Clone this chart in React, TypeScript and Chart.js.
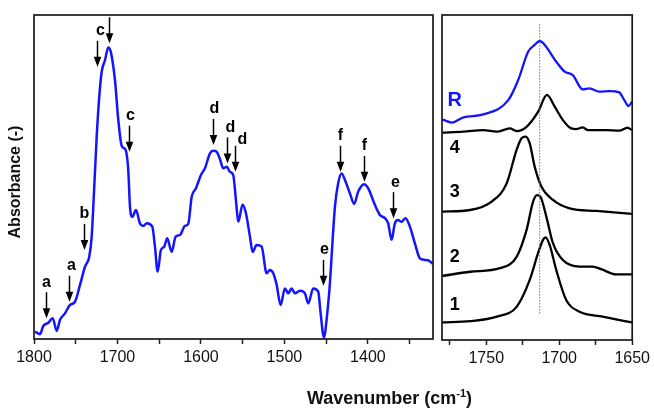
import React, { useEffect, useRef } from 'react';
import { Chart, registerables } from 'chart.js';

Chart.register(...registerables);

const FONT = "'Liberation Sans', Arial, Helvetica, sans-serif";

// ---------------- Main spectrum (left panel) ----------------
const mainWavenumber = [
  1798.8, 1792.8, 1788.9, 1782.9, 1777.6, 1772.8, 1768.9, 1762.9, 1756.9, 1750.9,
  1744.9, 1738.9, 1733.8, 1730.9, 1727.8, 1724.9, 1721.8, 1718.9, 1714.9, 1711.0,
  1708.1, 1703.0, 1699.0, 1694.9, 1690.2, 1687.1, 1685.0, 1682.3, 1677.8, 1673.1,
  1669.1, 1665.0, 1658.3, 1655.1, 1651.9, 1647.9, 1644.0, 1640.4, 1635.1, 1630.3,
  1625.1, 1619.2, 1615.2, 1611.1, 1606.0, 1600.0, 1595.2, 1589.2, 1585.3, 1581.2,
  1577.2, 1573.3, 1569.2, 1565.3, 1561.3, 1558.1, 1555.3, 1550.1, 1546.1, 1541.3,
  1538.1, 1533.3, 1527.3, 1521.3, 1517.4, 1513.4, 1509.3, 1504.6, 1499.4, 1495.4,
  1491.4, 1487.4, 1481.4, 1475.4, 1471.5, 1465.5, 1459.5, 1456.6, 1452.7, 1448.7,
  1445.5, 1443.5, 1439.5, 1435.6, 1431.5, 1427.5, 1421.6, 1416.4, 1411.6, 1404.4,
  1399.6, 1391.6, 1385.6, 1379.6, 1375.7, 1371.6, 1367.7, 1363.7, 1359.7, 1354.9,
  1349.7, 1343.7, 1337.7, 1331.7, 1327.0, 1321.8,
];
const mainAbsorbance = [
  2.3, 1.5, 4.0, 5.0, 6.4, 2.5, 5.9, 7.9, 10.5, 11.5,
  16.7, 22.3, 25.4, 31.6, 47.0, 62.4, 74.8, 82.5, 86.1, 90.0,
  88.7, 79.9, 67.6, 59.6, 58.3, 52.2, 40.8, 37.7, 39.8, 35.7,
  34.9, 35.7, 34.7, 28.5, 20.8, 27.5, 28.5, 31.1, 26.9, 31.6,
  32.1, 34.9, 35.5, 43.9, 46.5, 50.6, 52.7, 57.3, 58.1, 57.8,
  55.5, 52.7, 53.2, 51.6, 50.6, 42.9, 36.2, 41.4, 38.8, 31.6,
  26.9, 29.0, 28.5, 20.3, 21.3, 20.3, 16.7, 10.5, 15.6, 14.1,
  15.6, 14.1, 14.9, 14.1, 11.0, 15.6, 14.6, 7.9, 0.5, 7.9,
  17.2, 25.4, 40.8, 48.1, 51.1, 49.1, 45.0, 41.7, 45.5, 47.8,
  46.5, 41.4, 38.3, 37.3, 35.7, 30.6, 35.7, 36.7, 36.2, 37.3,
  34.7, 29.5, 24.9, 24.4, 24.2, 23.1,
];
const mainTickLabels = [1800, 1700, 1600, 1500, 1400];

// Peak markers (arrows) on the main spectrum
const peakLetters = ['a', 'a', 'b', 'c', '', 'c', 'd', 'd', 'd', 'e', 'f', 'f', 'e'];
const peakWavenumber = [1785.6, 1757.7, 1740.1, 1724.9, 1709.8, 1686.6, 1586.0, 1568.5, 1559.6, 1454.3, 1433.5, 1404.4, 1369.7];
const peakArrowTip = [6.4, 11.5, 27.5, 84.0, 91.3, 57.8, 59.9, 54.2, 51.6, 16.4, 51.6, 48.5, 37.3];

// ---------------- Inset (right panel) ----------------
const traceRWavenumber = [1780.3, 1773.5, 1765.6, 1752.0, 1734.9, 1728.1, 1721.3, 1716.8, 1713.4, 1709.9, 1702.0, 1696.3, 1690.7, 1683.9, 1679.3, 1672.5, 1665.7, 1658.9, 1655.4, 1652.5, 1650.2];
const traceRValues = [67.9, 66.9, 68.5, 69.4, 73.8, 80.0, 88.7, 90.8, 92.0, 90.8, 85.6, 82.6, 81.5, 77.1, 77.4, 76.4, 76.6, 76.2, 73.8, 72.0, 73.3];

const trace4Wavenumber = [1780.3, 1765.6, 1752.0, 1742.8, 1733.8, 1729.2, 1722.4, 1714.5, 1708.4, 1703.1, 1697.5, 1691.8, 1688.4, 1683.9, 1680.4, 1667.9, 1658.9, 1653.2, 1650.2];
const trace4Values = [63.8, 64.1, 64.6, 64.1, 65.1, 64.3, 65.6, 70.2, 75.4, 71.8, 67.7, 65.1, 64.9, 65.4, 64.6, 64.6, 64.4, 65.3, 64.6];

const trace3Wavenumber = [1780.3, 1761.0, 1746.3, 1736.0, 1729.2, 1725.8, 1722.9, 1720.2, 1716.8, 1712.2, 1704.3, 1692.9, 1674.7, 1650.2];
const trace3Values = [39.5, 40.0, 42.6, 48.2, 58.5, 62.1, 62.6, 60.5, 53.3, 47.2, 43.1, 40.5, 39.7, 38.8];

const trace2Wavenumber = [1780.3, 1761.0, 1740.6, 1729.2, 1722.4, 1717.9, 1715.2, 1712.9, 1708.8, 1704.3, 1697.5, 1686.1, 1677.0, 1671.3, 1661.1, 1650.2];
const trace2Values = [19.7, 21.0, 22.1, 25.6, 33.8, 42.6, 44.6, 44.1, 37.9, 29.8, 24.6, 22.6, 22.6, 21.8, 20.2, 20.2];

const trace1Wavenumber = [1780.3, 1761.0, 1742.8, 1729.2, 1720.2, 1714.5, 1711.1, 1709.3, 1706.5, 1702.0, 1695.2, 1686.1, 1670.2, 1650.2];
const trace1Values = [5.4, 5.8, 7.2, 10.2, 18.5, 26.7, 30.8, 31.6, 29.2, 21.5, 12.3, 8.7, 7.2, 5.4];

const traceNames = ['R', '4', '3', '2', '1'];
const traceLabelLevel = [73.8, 59.1, 45.5, 25.5, 10.8];
const insetTickLabels = [1750, 1700, 1650];
const referenceWavenumber = 1713.4;

const BLUE = '#1414ff';
const BLACK = '#000000';

const pts = (xs: number[], ys: number[]) => xs.map((x, i) => ({ x, y: ys[i] }));

const framePlugin = {
  id: 'frame',
  afterDatasetsDraw(chart: any) {
    const { ctx, chartArea: a } = chart;
    ctx.save();
    ctx.strokeStyle = '#1a1a1a';
    ctx.lineWidth = 1.7;
    ctx.strokeRect(a.left, a.top, a.right - a.left, a.bottom - a.top);
    ctx.restore();
  },
};

const arrowPlugin = {
  id: 'peakArrows',
  afterDatasetsDraw(chart: any) {
    const { ctx } = chart;
    const xs = chart.scales.x;
    const ys = chart.scales.y;
    ctx.save();
    ctx.fillStyle = '#000';
    ctx.strokeStyle = '#000';
    ctx.lineWidth = 1.5;
    ctx.font = `bold 16px ${FONT}`;
    ctx.textAlign = 'center';
    ctx.textBaseline = 'middle';
    const shift = [0, 2, 0, 3, 0, 1, 1, 3, 7, 1, 0, 0, 2];
    const lift = [0, 0, 0, 0, 0, 0, 0, 0, -4, 0, 0, 0, 0];
    peakWavenumber.forEach((wn, i) => {
      const x = Math.round(xs.getPixelForValue(wn)) + 0.5;
      const tip = ys.getPixelForValue(peakArrowTip[i]);
      const len = 26;
      const head = 10;
      const hw = 3.8;
      ctx.beginPath();
      ctx.moveTo(x, tip - len);
      ctx.lineTo(x, tip - head + 1);
      ctx.stroke();
      ctx.beginPath();
      ctx.moveTo(x - hw, tip - head);
      ctx.lineTo(x + hw, tip - head);
      ctx.lineTo(x, tip);
      ctx.closePath();
      ctx.fill();
      if (peakLetters[i]) ctx.fillText(peakLetters[i], x + shift[i], tip - len - 10 - lift[i]);
    });
    ctx.restore();
  },
};

const traceLabelPlugin = {
  id: 'traceLabels',
  afterDatasetsDraw(chart: any) {
    const { ctx } = chart;
    const xs = chart.scales.x;
    const ys = chart.scales.y;
    ctx.save();
    ctx.textAlign = 'center';
    ctx.textBaseline = 'middle';
    traceNames.forEach((name, i) => {
      ctx.fillStyle = i === 0 ? BLUE : BLACK;
      ctx.font = `bold ${i === 0 ? 20 : 18}px ${FONT}`;
      ctx.fillText(name, xs.getPixelForValue(1771.5), ys.getPixelForValue(traceLabelLevel[i]));
    });
    ctx.restore();
  },
};

const xAxis = (min: number, max: number, step: number, labels: number[]) => ({
  type: 'linear' as const,
  reverse: true,
  min,
  max,
  border: { display: false },
  grid: {
    display: true,
    drawOnChartArea: false,
    drawTicks: true,
    tickLength: 5,
    color: '#222',
    tickColor: '#222',
    tickWidth: 1.5,
  },
  ticks: {
    stepSize: step,
    includeBounds: false,
    autoSkip: false,
    maxRotation: 0,
    minRotation: 0,
    padding: 4,
    color: '#111',
    font: { family: FONT, size: 16 },
    callback: (v: any) => (labels.includes(Number(v)) ? String(v) : ''),
  },
  afterFit: (s: any) => {
    s.height = 40;
  },
});

export default function App() {
  const leftRef = useRef<HTMLCanvasElement>(null);
  const rightRef = useRef<HTMLCanvasElement>(null);

  useEffect(() => {
    const left = new Chart(leftRef.current as HTMLCanvasElement, {
      type: 'line',
      data: {
        datasets: [
          {
            data: pts(mainWavenumber, mainAbsorbance),
            borderColor: BLUE,
            borderWidth: 2.5,
            pointRadius: 0,
            fill: false,
            cubicInterpolationMode: 'monotone',
          },
        ],
      },
      options: {
        responsive: false,
        animation: false,
        devicePixelRatio: 1,
        layout: { padding: { left: 34, right: 654 - 433, top: 15, bottom: 409 - 339 - 40 } },
        scales: {
          x: xAxis(1322, 1800, 50, mainTickLabels) as any,
          y: { display: false, min: 0, max: 100 },
        },
        plugins: { legend: { display: false }, tooltip: { enabled: false } },
      },
      plugins: [framePlugin, arrowPlugin],
    });

    const mk = (xs: number[], ys: number[], color: string) => ({
      data: pts(xs, ys),
      borderColor: color,
      borderWidth: 2.3,
      pointRadius: 0,
      fill: false,
      cubicInterpolationMode: 'monotone' as const,
    });

    const right = new Chart(rightRef.current as HTMLCanvasElement, {
      type: 'line',
      data: {
        datasets: [
          {
            data: [
              { x: referenceWavenumber, y: 97.2 },
              { x: referenceWavenumber, y: 7.7 },
            ],
            borderColor: '#777',
            borderWidth: 1,
            borderDash: [1.5, 1.5],
            pointRadius: 0,
            fill: false,
          },
          mk(traceRWavenumber, traceRValues, BLUE),
          mk(trace4Wavenumber, trace4Values, BLACK),
          mk(trace3Wavenumber, trace3Values, BLACK),
          mk(trace2Wavenumber, trace2Values, BLACK),
          mk(trace1Wavenumber, trace1Values, BLACK),
        ] as any,
      },
      options: {
        responsive: false,
        animation: false,
        devicePixelRatio: 1,
        layout: { padding: { left: 442, right: 654 - 633, top: 15, bottom: 409 - 340 - 40 } },
        scales: {
          x: xAxis(1650, 1780.3, 25, insetTickLabels) as any,
          y: { display: false, min: 0, max: 100 },
        },
        plugins: { legend: { display: false }, tooltip: { enabled: false } },
      },
      plugins: [framePlugin, traceLabelPlugin],
    });

    return () => {
      left.destroy();
      right.destroy();
    };
  }, []);

  return (
    <div
      style={{
        position: 'absolute',
        left: 0,
        top: 0,
        width: 654,
        height: 409,
        background: '#fff',
        overflow: 'hidden',
        fontFamily: FONT,
      }}
    >
      <canvas ref={leftRef} width={654} height={409} style={{ position: 'absolute', left: 0, top: 0, width: 654, height: 409 }} />
      <canvas ref={rightRef} width={654} height={409} style={{ position: 'absolute', left: 0, top: 0, width: 654, height: 409 }} />
      <div
        style={{
          position: 'absolute',
          left: 15 - 100,
          top: 182 - 10,
          width: 200,
          height: 20,
          lineHeight: '20px',
          textAlign: 'center',
          fontWeight: 'bold',
          fontSize: 16,
          color: '#111',
          transform: 'rotate(-90deg)',
          whiteSpace: 'nowrap',
        }}
      >
        Absorbance (-)
      </div>
      <div
        style={{
          position: 'absolute',
          left: 389.5 - 120,
          top: 389,
          width: 240,
          height: 18,
          lineHeight: '18px',
          textAlign: 'center',
          fontWeight: 'bold',
          fontSize: 18,
          color: '#111',
          whiteSpace: 'nowrap',
        }}
      >
        Wavenumber (cm<sup style={{ fontSize: 11, lineHeight: 0, verticalAlign: 'super' }}>-1</sup>)
      </div>
    </div>
  );
}
